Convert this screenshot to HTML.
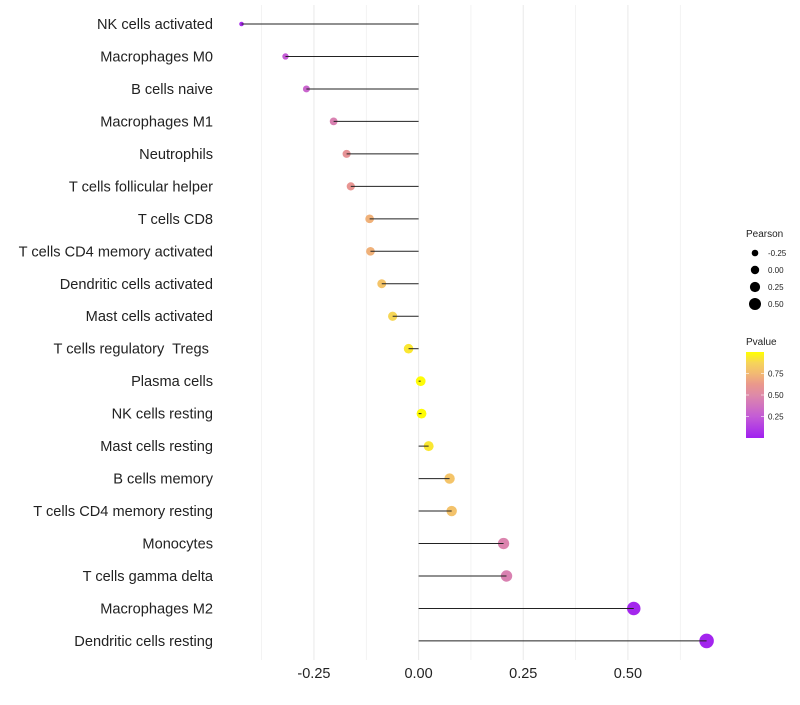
<!DOCTYPE html>
<html><head><meta charset="utf-8"><style>
body{margin:0;background:#fff;font-family:"Liberation Sans",sans-serif}
</style></head><body>
<svg id="c" width="800" height="700" xmlns="http://www.w3.org/2000/svg"></svg>
<script>
const categories=["NK cells activated","Macrophages M0","B cells naive","Macrophages M1","Neutrophils","T cells follicular helper","T cells CD8","T cells CD4 memory activated","Dendritic cells activated","Mast cells activated","T cells regulatory  Tregs ","Plasma cells","NK cells resting","Mast cells resting","B cells memory","T cells CD4 memory resting","Monocytes","T cells gamma delta","Macrophages M2","Dendritic cells resting"];
const pearson=[-0.423,-0.318,-0.268,-0.203,-0.172,-0.162,-0.117,-0.115,-0.088,-0.062,-0.024,0.005,0.007,0.024,0.074,0.079,0.203,0.210,0.514,0.688];
const pvalues=[0.05,0.25,0.3,0.45,0.58,0.6,0.72,0.72,0.8,0.88,0.93,0.99,0.99,0.93,0.8,0.79,0.47,0.45,0.03,0.02];
const xTicks=[-0.25,0,0.25,0.5];
const xTickLabels=["-0.25","0.00","0.25","0.50"];
const sizeLegend=[-0.25,0,0.25,0.5];
const sizeLegendLabels=["-0.25","0.00","0.25","0.50"];
const pLegend=[0.75,0.5,0.25];
const pLegendLabels=["0.75","0.50","0.25"];

const svg=document.getElementById('c');
const NS="http://www.w3.org/2000/svg";
function mk(t,a,p){const e=document.createElementNS(NS,t);for(const k in a)e.setAttribute(k,a[k]);(p||svg).appendChild(e);return e;}
const x=v=>418.6+v*418.6;
const y=i=>24+i*32.47;
const r=v=>Math.sqrt(Math.max(1,4+40*(v+0.423)))+0.3;
const stops=[[0,[160,32,240]],[0.25,[196,92,214]],[0.5,[222,138,168]],[0.625,[234,152,140]],[0.75,[242,185,115]],[0.875,[246,212,90]],[1,[255,255,0]]];
function col(p){p=Math.max(0,Math.min(1,p));for(let i=1;i<stops.length;i++){if(p<=stops[i][0]){const a=stops[i-1],b=stops[i],t=(p-a[0])/(b[0]-a[0]);return 'rgb('+a[1].map((c,j)=>Math.round(c+(b[1][j]-c)*t)).join(',')+')';}}return 'rgb(255,255,0)';}

for(let k=-3;k<=5;k++){
  const v=k*0.125;
  const g=mk('line',{x1:x(v),x2:x(v),y1:5,y2:660,stroke:'#ebebeb','stroke-width':(k%2===0)?1.1:0.6});
  
  
}
xTicks.forEach((v,i)=>{
  const t=mk('text',{x:x(v),y:678,'text-anchor':'middle','font-size':14.5,fill:'#222'});
  t.textContent=xTickLabels[i];
  
  
});
categories.forEach((c,i)=>{
  const t=mk('text',{x:213,y:y(i)+5,'text-anchor':'end','font-size':14.6,fill:'#222',style:'white-space:pre'});
  t.textContent=c;
  
  
  const d=mk('circle',{cx:x(pearson[i]),cy:y(i),r:r(pearson[i]),fill:col(pvalues[i])});
  
  
  const l=mk('line',{x1:x(0),x2:x(pearson[i]),y1:y(i),y2:y(i),stroke:'#222','stroke-width':1});
  
  
});
const st=mk('text',{x:746,y:237,'font-size':10,fill:'#222'});st.textContent='Pearson';


sizeLegend.forEach((v,i)=>{
  const cy=253+i*17;
  const c=mk('circle',{cx:755,cy:cy,r:4.2+v*3.6,fill:'#000'});
  
  
  const t=mk('text',{x:768,y:cy+3,'font-size':8,fill:'#222'});t.textContent=sizeLegendLabels[i];
  
  
});
const pt=mk('text',{x:746,y:345,'font-size':10,fill:'#222'});pt.textContent='Pvalue';


const defs=mk('defs',{});
const lg=mk('linearGradient',{id:'g',x1:0,y1:1,x2:0,y2:0},defs);
stops.forEach(s=>mk('stop',{offset:s[0],'stop-color':'rgb('+s[1].join(',')+')'},lg));
const bar=mk('rect',{x:746,y:352,width:18,height:86,fill:'url(#g)'});


const py=p=>438-p*86;
pLegend.forEach((v,i)=>{
  mk('line',{x1:746,x2:749,y1:py(v),y2:py(v),stroke:'#fff','stroke-width':0.6});
  mk('line',{x1:761,x2:764,y1:py(v),y2:py(v),stroke:'#fff','stroke-width':0.6});
  const t=mk('text',{x:768,y:py(v)+3,'font-size':8,fill:'#222'});t.textContent=pLegendLabels[i];
  
  
});
</script>
</body></html>
